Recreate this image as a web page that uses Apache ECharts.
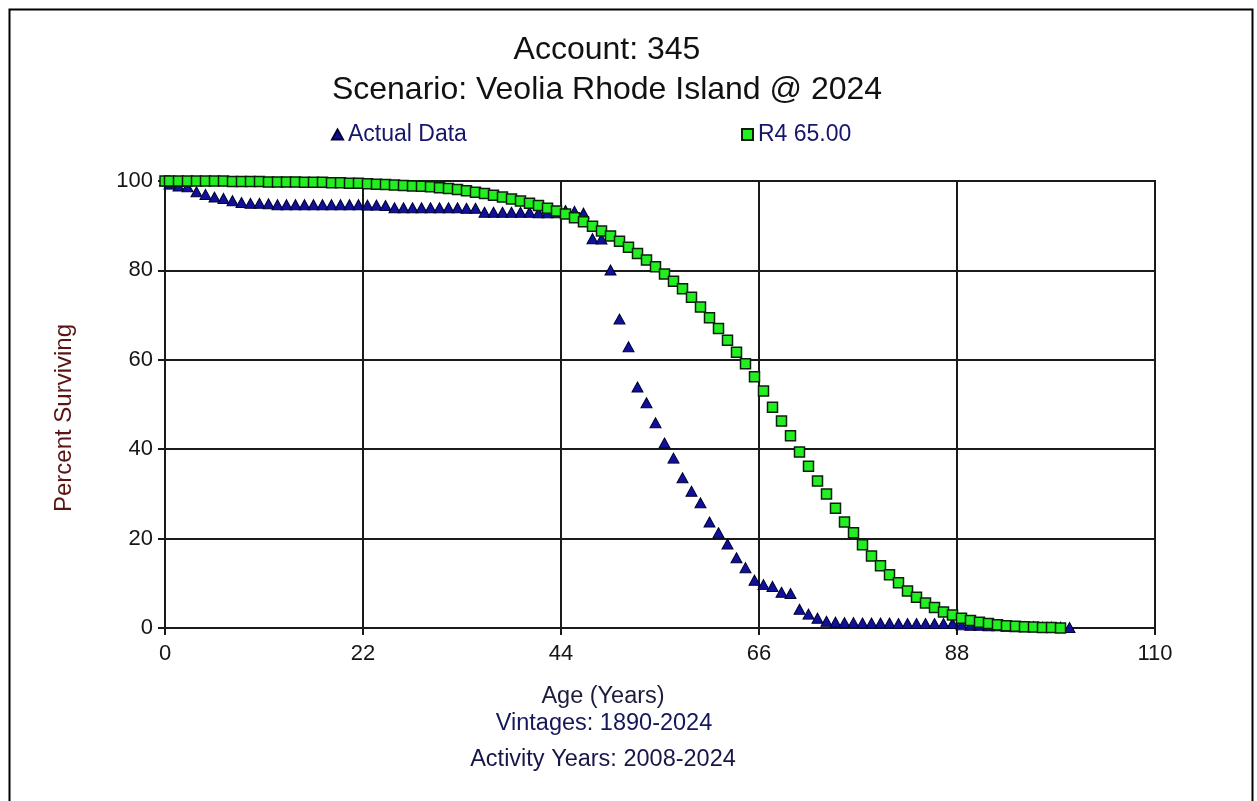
<!DOCTYPE html>
<html>
<head>
<meta charset="utf-8">
<script src="https://cdn.jsdelivr.net/npm/echarts@6/dist/echarts.min.js"></script>
<style>
  html, body { margin: 0; padding: 0; background: #fff; }
  #chart { width: 1257px; height: 801px; }
</style>
</head>
<body>
<div id="chart"></div>
<script>
// Survivor curve: observed retirements vs. fitted Iowa R4 curve (65-year life)
const titleLines = ['Account: 345', 'Scenario: Veolia Rhode Island @ 2024'];
const xNameLines = ['Age (Years)', 'Vintages: 1890-2024', 'Activity Years: 2008-2024'];
const yName = 'Percent Surviving';
const seriesNames = ['Actual Data', 'R4 65.00'];

// Ages (years) of the observed data points
const actualAges = [0, 0.5, 1.5, 2.5, 3.5, 4.5, 5.5, 6.5, 7.5, 8.5, 9.5, 10.5, 11.5, 12.5, 13.5, 14.5,
  15.5, 16.5, 17.5, 18.5, 19.5, 20.5, 21.5, 22.5, 23.5, 24.5, 25.5, 26.5, 27.5, 28.5, 29.5, 30.5,
  31.5, 32.5, 33.5, 34.5, 35.5, 36.5, 37.5, 38.5, 39.5, 40.5, 41.5, 42.5, 43.5, 44.5, 45.5, 46.5,
  47.5, 48.5, 49.5, 50.5, 51.5, 52.5, 53.5, 54.5, 55.5, 56.5, 57.5, 58.5, 59.5, 60.5, 61.5, 62.5,
  63.5, 64.5, 65.5, 66.5, 67.5, 68.5, 69.5, 70.5, 71.5, 72.5, 73.5, 74.5, 75.5, 76.5, 77.5, 78.5,
  79.5, 80.5, 81.5, 82.5, 83.5, 84.5, 85.5, 86.5, 87.5, 88.5, 89.5, 90.5, 91.5, 92.5, 93.5, 94.5,
  95.5, 96.5, 97.5, 98.5, 99.5, 100.5];
// Percent surviving, observed
const actualPct = [100, 99.3, 98.9, 98.7, 97.6, 97.0, 96.4, 96.1, 95.6, 95.2, 95.0, 95.0, 94.9, 94.7, 94.7, 94.7,
  94.7, 94.7, 94.7, 94.7, 94.7, 94.7, 94.7, 94.6, 94.6, 94.5, 94.0, 94.0, 94.0, 94.0, 94.0, 94.0,
  94.0, 94.0, 93.9, 93.9, 93.0, 93.0, 93.0, 93.0, 93.0, 93.0, 92.9, 92.9, 92.9, 93.4, 93.2, 92.8,
  87.1, 87.0, 80.1, 69.1, 62.9, 53.9, 50.4, 45.9, 41.4, 38.0, 33.6, 30.6, 28.0, 23.7, 21.3, 18.8,
  15.7, 13.5, 10.7, 9.7, 9.3, 8.0, 7.7, 4.2, 3.1, 2.2, 1.5, 1.3, 1.2, 1.2, 1.1, 1.1,
  1.1, 1.1, 1.0, 1.0, 1.0, 1.0, 1.0, 1.0, 1.0, 0.7, 0.6, 0.6, 0.5, 0.5, 0.4, 0.3,
  0.3, 0.3, 0.2, 0.2, 0.2, 0.1];

// Ages (years) of the fitted curve points
const curveAges = [0, 0.5, 1.5, 2.5, 3.5, 4.5, 5.5, 6.5, 7.5, 8.5, 9.5, 10.5, 11.5, 12.5, 13.5, 14.5,
  15.5, 16.5, 17.5, 18.5, 19.5, 20.5, 21.5, 22.5, 23.5, 24.5, 25.5, 26.5, 27.5, 28.5, 29.5, 30.5,
  31.5, 32.5, 33.5, 34.5, 35.5, 36.5, 37.5, 38.5, 39.5, 40.5, 41.5, 42.5, 43.5, 44.5, 45.5, 46.5,
  47.5, 48.5, 49.5, 50.5, 51.5, 52.5, 53.5, 54.5, 55.5, 56.5, 57.5, 58.5, 59.5, 60.5, 61.5, 62.5,
  63.5, 64.5, 65.5, 66.5, 67.5, 68.5, 69.5, 70.5, 71.5, 72.5, 73.5, 74.5, 75.5, 76.5, 77.5, 78.5,
  79.5, 80.5, 81.5, 82.5, 83.5, 84.5, 85.5, 86.5, 87.5, 88.5, 89.5, 90.5, 91.5, 92.5, 93.5, 94.5,
  95.5, 96.5, 97.5, 98.5, 99.5];
// Percent surviving, R4 65.00
const curvePct = [100, 100, 100, 100, 100, 100, 100, 100, 99.9, 99.9, 99.9, 99.9, 99.8, 99.8, 99.8, 99.8,
  99.7, 99.7, 99.7, 99.6, 99.6, 99.5, 99.5, 99.4, 99.3, 99.2, 99.1, 99.0, 98.9, 98.8, 98.7, 98.5,
  98.3, 98.1, 97.8, 97.5, 97.2, 96.8, 96.4, 96.0, 95.5, 95.0, 94.5, 93.9, 93.3, 92.6, 91.8, 90.9,
  89.9, 88.8, 87.7, 86.5, 85.2, 83.8, 82.3, 80.8, 79.2, 77.6, 75.9, 74.0, 71.8, 69.4, 67.0, 64.4,
  61.7, 59.1, 56.2, 53.0, 49.4, 46.3, 43.0, 39.4, 36.2, 32.9, 30.0, 26.8, 23.7, 21.3, 18.6, 16.1,
  13.9, 11.9, 10.1, 8.3, 6.9, 5.6, 4.6, 3.6, 2.9, 2.2, 1.7, 1.3, 1.0, 0.7, 0.5, 0.4,
  0.3, 0.2, 0.1, 0.1, 0.0];

const xTicks = { min: 0, max: 110, step: 22 };
const yTicks = { min: 0, max: 100, step: 20 };

const FONT = '"Liberation Sans", Arial, sans-serif';
const pair = (xs, ys) => xs.map((x, i) => [x, ys[i]]);

const chart = echarts.init(document.getElementById('chart'), null, { renderer: 'canvas' });

const gridLeft = 165, gridTop = 181, gridW = 990, gridH = 447;

chart.setOption({
  backgroundColor: '#ffffff',
  animation: false,
  textStyle: { fontFamily: FONT },
  grid: {
    left: gridLeft, top: gridTop, width: gridW, height: gridH,
    show: true, borderColor: '#1a1a1a', borderWidth: 2, backgroundColor: 'transparent'
  },
  legend: [
    {
      data: [seriesNames[0]], left: 326, top: 118, itemWidth: 11, itemHeight: 10,
      textStyle: { fontFamily: FONT, fontSize: 23, color: '#16166a' }, itemGap: 8
    },
    {
      data: [seriesNames[1]], left: 736, top: 118, itemWidth: 11, itemHeight: 11,
      textStyle: { fontFamily: FONT, fontSize: 23, color: '#16166a' }, itemGap: 8
    }
  ],
  xAxis: {
    type: 'value', min: xTicks.min, max: xTicks.max, interval: xTicks.step,
    axisLine: { show: true, onZero: false, lineStyle: { color: '#1a1a1a', width: 2 } },
    axisTick: { show: true, inside: false, length: 7, lineStyle: { color: '#1a1a1a', width: 2 } },
    axisLabel: { margin: 15, fontSize: 22, color: '#151515', fontFamily: FONT },
    splitLine: { show: true, lineStyle: { color: '#1a1a1a', width: 2 } }
  },
  yAxis: {
    type: 'value', min: yTicks.min, max: yTicks.max, interval: yTicks.step,
    axisLine: { show: true, onZero: false, lineStyle: { color: '#1a1a1a', width: 2 } },
    axisTick: { show: true, inside: false, length: 7, lineStyle: { color: '#1a1a1a', width: 2 } },
    axisLabel: { margin: 12, fontSize: 22, color: '#151515', fontFamily: FONT },
    splitLine: { show: true, lineStyle: { color: '#1a1a1a', width: 2 } }
  },
  series: [
    {
      name: seriesNames[0], type: 'scatter', symbol: 'triangle', symbolSize: [11, 10],
      itemStyle: { color: '#10109a', borderColor: '#000033', borderWidth: 1, opacity: 1 },
      data: pair(actualAges, actualPct), z: 2
    },
    {
      name: seriesNames[1], type: 'scatter', symbol: 'rect', symbolSize: 10,
      itemStyle: { color: '#22ee22', borderColor: '#0a200a', borderWidth: 1.5, opacity: 1 },
      data: pair(curveAges, curvePct), z: 3
    }
  ],
  graphic: [
    {
      type: 'rect', left: 7, top: 7, z: 100, silent: true,
      shape: { width: 1243, height: 820 },
      style: { fill: 'none', stroke: '#000', lineWidth: 2 }
    },
    {
      type: 'text', x: 607, y: 50, z: 100,
      style: { text: titleLines[0], font: '32px ' + FONT, fill: '#111', align: 'center', verticalAlign: 'middle' }
    },
    {
      type: 'text', x: 607, y: 90, z: 100,
      style: { text: titleLines[1], font: '32px ' + FONT, fill: '#111', align: 'center', verticalAlign: 'middle' }
    },
    {
      type: 'text', x: 64, y: 418, rotation: Math.PI / 2, z: 100,
      style: { text: yName, font: '24px ' + FONT, fill: '#5a1414', align: 'center', verticalAlign: 'middle' }
    },
    {
      type: 'text', x: 603, y: 697, z: 100,
      style: { text: xNameLines[0], font: '23.5px ' + FONT, fill: '#1c1c3c', align: 'center', verticalAlign: 'middle' }
    },
    {
      type: 'text', x: 604, y: 724, z: 100,
      style: { text: xNameLines[1], font: '23.5px ' + FONT, fill: '#16165a', align: 'center', verticalAlign: 'middle' }
    },
    {
      type: 'text', x: 603, y: 760, z: 100,
      style: { text: xNameLines[2], font: '23.5px ' + FONT, fill: '#16164a', align: 'center', verticalAlign: 'middle' }
    }
  ]
});
</script>
</body>
</html>
